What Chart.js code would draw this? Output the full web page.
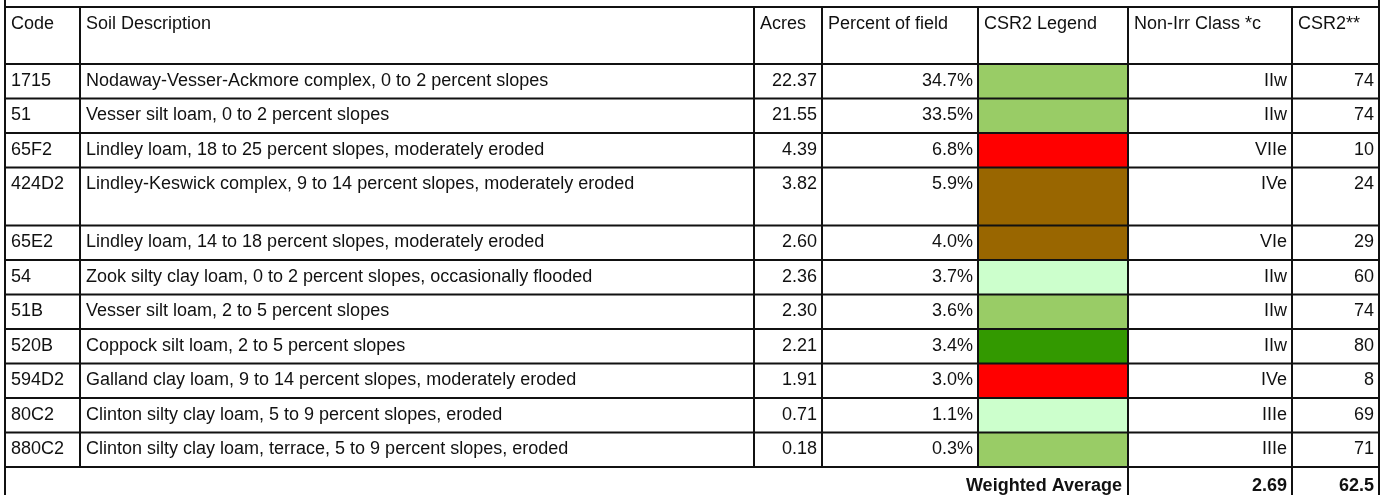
<!DOCTYPE html>
<html>
<head>
<meta charset="utf-8">
<script src="https://cdn.jsdelivr.net/npm/chart.js@4/dist/chart.umd.min.js"></script>
<style>
  html, body { margin: 0; padding: 0; background: #ffffff; }
  #wrap { width: 1386px; height: 495px; overflow: hidden; }
  canvas { display: block; }
</style>
</head>
<body>
<div id="wrap"><canvas id="c" width="1386" height="495"></canvas></div>
<script>
// ---------------- DATA ----------------
const headers = ['Code', 'Soil Description', 'Acres', 'Percent of field', 'CSR2 Legend', 'Non-Irr Class *c', 'CSR2**'];
const codes = ['1715', '51', '65F2', '424D2', '65E2', '54', '51B', '520B', '594D2', '80C2', '880C2'];
const descriptions = [
  'Nodaway-Vesser-Ackmore complex, 0 to 2 percent slopes',
  'Vesser silt loam, 0 to 2 percent slopes',
  'Lindley loam, 18 to 25 percent slopes, moderately eroded',
  'Lindley-Keswick complex, 9 to 14 percent slopes, moderately eroded',
  'Lindley loam, 14 to 18 percent slopes, moderately eroded',
  'Zook silty clay loam, 0 to 2 percent slopes, occasionally flooded',
  'Vesser silt loam, 2 to 5 percent slopes',
  'Coppock silt loam, 2 to 5 percent slopes',
  'Galland clay loam, 9 to 14 percent slopes, moderately eroded',
  'Clinton silty clay loam, 5 to 9 percent slopes, eroded',
  'Clinton silty clay loam, terrace, 5 to 9 percent slopes, eroded'
];
const acres = [22.37, 21.55, 4.39, 3.82, 2.60, 2.36, 2.30, 2.21, 1.91, 0.71, 0.18];
const percentOfField = [34.7, 33.5, 6.8, 5.9, 4.0, 3.7, 3.6, 3.4, 3.0, 1.1, 0.3];
const nonIrrClass = ['IIw', 'IIw', 'VIIe', 'IVe', 'VIe', 'IIw', 'IIw', 'IIw', 'IVe', 'IIIe', 'IIIe'];
const csr2 = [74, 74, 10, 24, 29, 60, 74, 80, 8, 69, 71];
const weightedLabel = 'Weighted Average';
const weightedNonIrr = '2.69';
const weightedCsr2 = '62.5';

// ---------------- STYLE / LAYOUT ----------------
const legendBins = [
  { upTo: 19, color: '#FF0000' },
  { upTo: 39, color: '#996600' },
  { upTo: 69, color: '#CCFFCC' },
  { upTo: 79, color: '#99CC66' },
  { upTo: 100, color: '#339900' }
];
function legendColor(v) {
  for (const b of legendBins) if (v <= b.upTo) return b.color;
  return legendBins[legendBins.length - 1].color;
}

const CANVAS_W = 1386, CANVAS_H = 495;
const COL_EDGES = [5, 80, 754, 822, 978, 1128, 1292, 1379];
const TABLE_TOP = 7;
const HEADER_H = 57;
const ROW_H = 34.5;
const TALL_ROWS = { 3: 58 };
const LINE_W = 2;
const LINE_COLOR = '#111111';
const TEXT_COLOR = '#111111';
const FONT = '18px "Liberation Sans", Arial, sans-serif';
const FONT_BOLD = 'bold 18px "Liberation Sans", Arial, sans-serif';
const PAD_L = 6, PAD_R = 5, BASELINE_OFF = 21.5, WEIGHTED_BASELINE_OFF = 23.5;

// Row boundary values (in y-scale units)
const rowTops = [];
let yCur = TABLE_TOP + HEADER_H;
for (let i = 0; i < codes.length; i++) {
  rowTops.push(yCur);
  yCur += (TALL_ROWS[i] || ROW_H);
}
const weightedTop = yCur;
const rowBottoms = rowTops.map((t, i) => t + (TALL_ROWS[i] || ROW_H));

const legendCol = 4;
const legendCenter = (COL_EDGES[legendCol] + COL_EDGES[legendCol + 1]) / 2;
const legendWidth = COL_EDGES[legendCol + 1] - COL_EDGES[legendCol];

const tablePlugin = {
  id: 'tablePlugin',
  beforeDraw(chart) {
    const ctx = chart.ctx;
    ctx.save();
    ctx.fillStyle = '#ffffff';
    ctx.fillRect(0, 0, chart.width, chart.height);
    ctx.restore();
  },
  afterDatasetsDraw(chart) {
    const ctx = chart.ctx;
    const xs = chart.scales.x, ys = chart.scales.y;
    const X = v => xs.getPixelForValue(v);
    const Y = v => ys.getPixelForValue(v);
    ctx.save();
    // grid lines
    ctx.strokeStyle = LINE_COLOR;
    ctx.lineWidth = LINE_W;
    ctx.lineCap = 'butt';
    const hLine = (y) => { ctx.beginPath(); ctx.moveTo(X(COL_EDGES[0]) - 1, Y(y)); ctx.lineTo(X(COL_EDGES[COL_EDGES.length - 1]) + 1, Y(y)); ctx.stroke(); };
    const vLine = (x, y0, y1) => { ctx.beginPath(); ctx.moveTo(X(x), Y(y0)); ctx.lineTo(X(x), Y(y1)); ctx.stroke(); };
    hLine(TABLE_TOP);
    hLine(TABLE_TOP + HEADER_H);
    rowBottoms.forEach(b => hLine(b));
    // outer verticals run the full height
    vLine(COL_EDGES[0], 0, CANVAS_H);
    vLine(COL_EDGES[COL_EDGES.length - 1], 0, CANVAS_H);
    // inner verticals
    for (let c = 1; c < COL_EDGES.length - 1; c++) {
      const extend = (c === 5 || c === 6);
      vLine(COL_EDGES[c], TABLE_TOP, extend ? CANVAS_H : weightedTop);
    }
    // text
    ctx.fillStyle = TEXT_COLOR;
    ctx.textBaseline = 'alphabetic';
    ctx.font = FONT;
    const left = (t, c, top) => { ctx.textAlign = 'left'; ctx.fillText(t, X(COL_EDGES[c]) + PAD_L, Y(top + BASELINE_OFF)); };
    const right = (t, c, top) => { ctx.textAlign = 'right'; ctx.fillText(t, X(COL_EDGES[c + 1]) - PAD_R, Y(top + BASELINE_OFF)); };
    headers.forEach((h, c) => left(h, c, TABLE_TOP));
    for (let i = 0; i < codes.length; i++) {
      const top = rowTops[i];
      left(codes[i], 0, top);
      left(descriptions[i], 1, top);
      right(acres[i].toFixed(2), 2, top);
      right(percentOfField[i].toFixed(1) + '%', 3, top);
      right(nonIrrClass[i], 5, top);
      right(String(csr2[i]), 6, top);
    }
    ctx.font = FONT_BOLD;
    ctx.textAlign = 'right';
    const wy = Y(weightedTop + WEIGHTED_BASELINE_OFF);
    ctx.fillText(weightedLabel, X(COL_EDGES[5]) - PAD_R - 1, wy);
    ctx.fillText(weightedNonIrr, X(COL_EDGES[6]) - PAD_R, wy);
    ctx.fillText(weightedCsr2, X(COL_EDGES[7]) - PAD_R, wy);
    ctx.restore();
  }
};

new Chart(document.getElementById('c'), {
  type: 'bar',
  data: {
    datasets: [{
      label: 'CSR2 Legend',
      data: codes.map((code, i) => ({ x: legendCenter, y: [rowTops[i], rowBottoms[i]] })),
      backgroundColor: csr2.map(legendColor),
      borderWidth: 0,
      barThickness: legendWidth,
      inflateAmount: 0
    }]
  },
  options: {
    responsive: false,
    devicePixelRatio: 1,
    animation: false,
    events: [],
    layout: { padding: 0 },
    plugins: { legend: { display: false }, tooltip: { enabled: false }, title: { display: false } },
    scales: {
      x: { type: 'linear', min: 0, max: CANVAS_W, display: false, offset: false, grid: { offset: false } },
      y: { type: 'linear', min: 0, max: CANVAS_H, reverse: true, display: false }
    }
  },
  plugins: [tablePlugin]
});
</script>
</body>
</html>
